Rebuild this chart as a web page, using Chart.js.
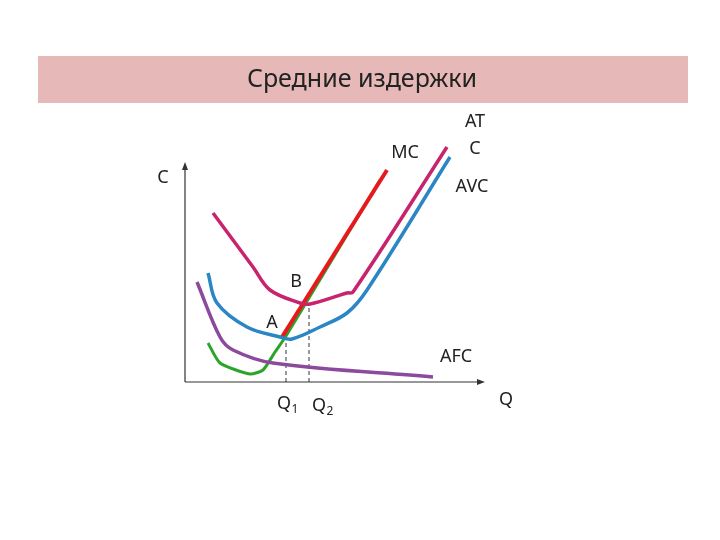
<!DOCTYPE html>
<html lang="ru">
<head>
<meta charset="UTF-8">
<script src="https://cdn.jsdelivr.net/npm/chart.js"></script>
<style>
  body { margin: 0; background: #fff; }
  #wrap { width: 720px; height: 540px; }
</style>
</head>
<body>
<div id="wrap"><canvas id="costChart" width="720" height="540"></canvas></div>
<script>
// кривые издержек (x = объём Q, y = издержки C)
const atcX = [28, 68, 85, 115, 125, 162, 168, 262];
const atcY = [169, 115, 92, 79, 78, 89, 90, 235];
const avcX = [23, 32, 62, 95, 107, 135, 162, 182, 265];
const avcY = [109, 79, 55, 45, 43, 55, 69, 92, 225];
const mcRedX = [97, 202];
const mcRedY = [45, 212];
const mcGreenX = [23, 35, 65, 78, 90, 101, 195];
const mcGreenY = [39, 19, 8, 12, 30, 46, 202];
const afcX = [12, 35, 48, 88, 248];
const afcY = [100, 45, 32, 19, 5];
const q1 = [101, 44];
const q2 = [124, 78];

const toPts = (xs, ys) => xs.map((x, i) => ({ x: x, y: ys[i] }));
const line = (data, color, width, dash, tension) => ({
  data: data, showLine: true, borderColor: color, borderWidth: width,
  borderDash: dash || [], pointRadius: 0, tension: tension === undefined ? 0.35 : tension,
  fill: false, clip: false
});

const decor = {
  id: 'decor',
  beforeDraw(chart) {
    const c = chart.ctx;
    c.save();
    c.fillStyle = '#e6b9b8';
    c.fillRect(38, 56, 650, 47);
    c.fillStyle = '#222';
    c.font = '25px "Noto Sans"';
    c.textAlign = 'center';
    c.textBaseline = 'middle';
    c.fillText('Средние издержки', 362, 80);
    c.restore();
  },
  afterDraw(chart) {
    const c = chart.ctx, xs = chart.scales.x, ys = chart.scales.y;
    const x0 = xs.getPixelForValue(0), y0 = ys.getPixelForValue(0);
    c.save();
    c.strokeStyle = '#333'; c.fillStyle = '#333'; c.lineWidth = 1.2;
    c.beginPath();
    c.moveTo(x0, y0); c.lineTo(xs.getPixelForValue(296), y0);
    c.moveTo(x0, y0); c.lineTo(x0, ys.getPixelForValue(216));
    c.stroke();
    c.beginPath();
    c.moveTo(xs.getPixelForValue(300), y0); c.lineTo(xs.getPixelForValue(292), y0 - 3); c.lineTo(xs.getPixelForValue(292), y0 + 3);
    c.fill();
    c.beginPath();
    c.moveTo(x0, ys.getPixelForValue(220)); c.lineTo(x0 - 3, ys.getPixelForValue(212)); c.lineTo(x0 + 3, ys.getPixelForValue(212));
    c.fill();
    c.fillStyle = '#222';
    c.font = '18px "Noto Sans"';
    c.textAlign = 'center'; c.textBaseline = 'middle';
    const labels = [['C', 163, 178], ['MC', 405, 153], ['AT', 475, 122], ['C', 475, 149], ['AVC', 472, 187],
      ['B', 296, 282], ['A', 272, 323], ['AFC', 456, 357], ['Q', 506, 400]];
    labels.forEach(l => c.fillText(l[0], l[1], l[2]));
    c.fillText('Q', 284, 404); c.fillText('Q', 319, 406);
    c.font = '12px "Noto Sans"';
    c.fillText('1', 295, 410); c.fillText('2', 330, 412);
    c.restore();
  }
};

new Chart(document.getElementById('costChart'), {
  type: 'scatter',
  data: {
    datasets: [
      line(toPts(afcX, afcY), '#8b4a9c', 3.5),
      line(toPts(atcX, atcY), '#c8246e', 3.5),
      line(toPts(avcX, avcY), '#2a86c4', 3.5),
      line(toPts(mcRedX, mcRedY), '#e8191c', 4, [], 0),
      line(toPts(mcGreenX, mcGreenY), '#2aa52a', 3, [], 0.2),
      line([{ x: q1[0], y: 0 }, { x: q1[0], y: q1[1] }], '#333', 1, [4, 3], 0),
      line([{ x: q2[0], y: 0 }, { x: q2[0], y: q2[1] }], '#333', 1, [4, 3], 0)
    ]
  },
  options: {
    responsive: false,
    animation: false,
    layout: { padding: { left: 185, right: 235, top: 162, bottom: 158 } },
    plugins: { legend: { display: false }, tooltip: { enabled: false } },
    scales: {
      x: { type: 'linear', min: 0, max: 300, display: false },
      y: { type: 'linear', min: 0, max: 220, display: false }
    }
  },
  plugins: [decor]
});
</script>
</body>
</html>
